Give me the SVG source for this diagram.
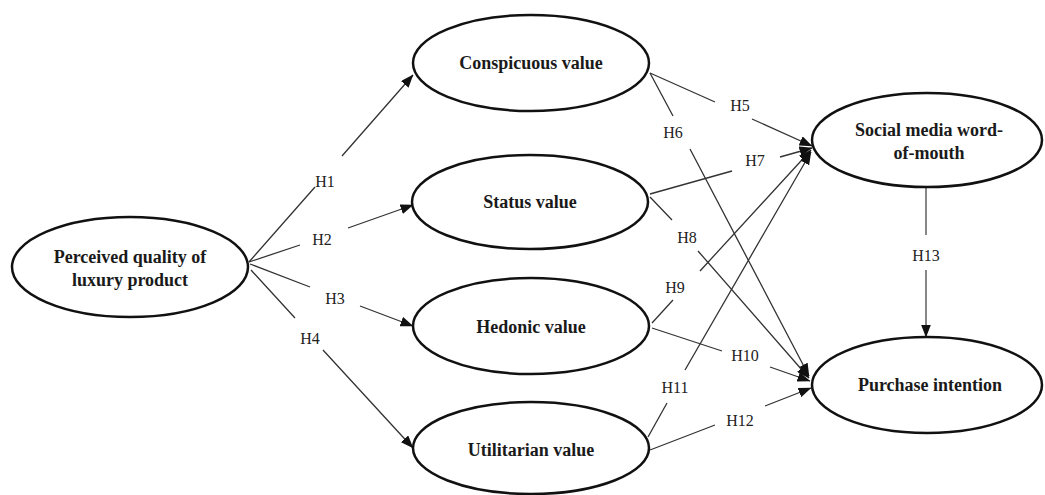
<svg xmlns="http://www.w3.org/2000/svg" width="1045" height="495" viewBox="0 0 1045 495">
<defs>
<marker id="arr" viewBox="0 0 13 10" refX="12.5" refY="5" markerWidth="13" markerHeight="10" markerUnits="userSpaceOnUse" orient="auto">
<path d="M0,0 L13,5 L0,10 z" fill="#111"/>
</marker>
<style>
.node ellipse{fill:#fff;stroke:#111;stroke-width:2.5}
.node text{font-family:"Liberation Serif","Times New Roman",serif;font-weight:bold;font-size:18px;fill:#1a1a1a;text-anchor:middle}
.edge{fill:none;stroke:#333;stroke-width:1.3;marker-end:url(#arr)}
.edge.thin{stroke:#111;stroke-width:1}
.lbl{font-family:"Liberation Serif","Times New Roman",serif;font-size:16px;fill:#222;text-anchor:middle}
</style>
</defs>
<rect width="1045" height="495" fill="#fff"/>
<g id="connectors">
<path class="edge" d="M249,262 L315,187 M342,156 L413,75"/>
<path class="edge" d="M249,262 L300,245 M348,228 L413,205"/>
<path class="edge" d="M250,264 L310,287 M360,306 L413,326"/>
<path class="edge" d="M251,270 L295,318 M323,350 L413,448"/>
<path class="edge" d="M650,73 L715,102 M752,119 L812,146"/>
<path class="edge" d="M650,73 L673,116 M690,149 L809,376"/>
<path class="edge" d="M650,194 L732,171 M780,157 L812,148"/>
<path class="edge" d="M650,197 L672,220 M698,251 L809,378"/>
<path class="edge" d="M652,323 L673,300 M700,271 L811,150"/>
<path class="edge" d="M652,328 L722,351 M770,367 L810,381"/>
<path class="edge" d="M648,437 L667,403 M685,370 L811,152"/>
<path class="edge" d="M650,450 L715,425 M765,406 L811,388"/>
<path class="edge thin" d="M926,188 L926,235 M926,270 L926,337"/>
<g id="edge-labels">
<text class="lbl" x="325" y="187">H1</text>
<text class="lbl" x="322" y="245">H2</text>
<text class="lbl" x="335" y="304">H3</text>
<text class="lbl" x="310" y="344">H4</text>
<text class="lbl" x="740" y="111">H5</text>
<text class="lbl" x="673" y="138">H6</text>
<text class="lbl" x="755" y="166">H7</text>
<text class="lbl" x="687" y="243">H8</text>
<text class="lbl" x="675" y="293">H9</text>
<text class="lbl" x="745" y="361">H10</text>
<text class="lbl" x="675" y="393">H11</text>
<text class="lbl" x="740" y="426">H12</text>
<text class="lbl" x="926" y="261">H13</text>
</g>
</g>
<g id="perceived-quality" class="node">
<ellipse cx="130" cy="267" rx="118" ry="50"/>
<text x="130" y="263">Perceived quality of</text>
<text x="130" y="286">luxury product</text>
</g>
<g id="conspicuous-value" class="node">
<ellipse cx="531" cy="63" rx="118" ry="48"/>
<text x="531" y="69">Conspicuous value</text>
</g>
<g id="status-value" class="node">
<ellipse cx="530" cy="202" rx="118" ry="47"/>
<text x="530" y="208">Status value</text>
</g>
<g id="hedonic-value" class="node">
<ellipse cx="531" cy="326" rx="118" ry="48"/>
<text x="531" y="333">Hedonic value</text>
</g>
<g id="utilitarian-value" class="node">
<ellipse cx="531" cy="448" rx="118" ry="46"/>
<text x="531" y="456">Utilitarian value</text>
</g>
<g id="social-media-wom" class="node">
<ellipse cx="927" cy="140" rx="115" ry="47"/>
<text x="929" y="136">Social media word-</text>
<text x="929" y="159">of-mouth</text>
</g>
<g id="purchase-intention" class="node">
<ellipse cx="927" cy="385" rx="115" ry="48"/>
<text x="930" y="391">Purchase intention</text>
</g>
</svg>
